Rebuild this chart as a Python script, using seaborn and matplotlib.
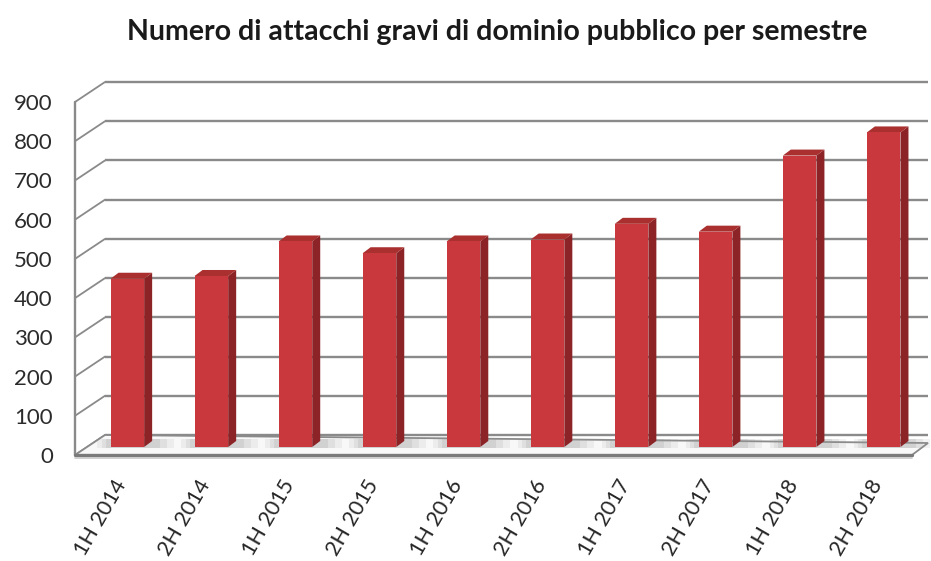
import matplotlib
matplotlib.use("Agg")
import matplotlib.pyplot as plt
from matplotlib.patches import Polygon
from matplotlib.transforms import ScaledTranslation
import seaborn as sns
import pandas as pd

# ---- data ----
semesters = ["1H 2014", "2H 2014", "1H 2015", "2H 2015", "1H 2016",
             "2H 2016", "1H 2017", "2H 2017", "1H 2018", "2H 2018"]
attacks = [429, 436, 524, 494, 524, 529, 569, 549, 743, 802]
y_ticks = [0, 100, 200, 300, 400, 500, 600, 700, 800, 900]
title = "Numero di attacchi gravi di dominio pubblico per semestre"

sns.set_theme(style="white")
plt.rcParams["font.family"] = ["Lato", "DejaVu Sans"]

FRONT = "#C8383D"
SIDE = "#8C2327"
TOP = "#A9302F"
GRID = "#8a8a8a"

fig = plt.figure(figsize=(9.31, 5.61), dpi=100)
ax_w_px, ax_h_px = 837, 353
ax = fig.add_axes([75 / 931, 106 / 561, ax_w_px / 931, ax_h_px / 561])

XMIN, XMAX = -0.48, 9.48
YMIN, YMAX = 0, 900
ax.set_xlim(XMIN, XMAX)
ax.set_ylim(YMIN, YMAX)

ppx = ax_w_px / (XMAX - XMIN)   # pixels per x-unit
ppy = ax_h_px / (YMAX - YMIN)   # pixels per y-unit


def dx(p):
    return p / ppx


def dy(p):
    return p / ppy


# ---- walls / floor (oblique pseudo 3D) ----
BACK = (30, 20)      # back wall shift in px
RIGHT_END = 16       # px beyond the front right edge
for v in y_ticks:
    ax.plot([XMIN + dx(BACK[0]), XMAX + dx(RIGHT_END)],
            [v + dy(BACK[1]), v + dy(BACK[1])],
            color=GRID, lw=1.7, clip_on=False, zorder=1, solid_capstyle="butt")
    ax.plot([XMIN, XMIN + dx(BACK[0])], [v, v + dy(BACK[1])],
            color=GRID, lw=1.3, clip_on=False, zorder=1)
ax.plot([XMIN, XMIN], [0, 900], color=GRID, lw=1.7, clip_on=False, zorder=1)
floor = Polygon([(XMIN, 0), (XMAX, 0),
                 (XMAX + dx(RIGHT_END), dy(12)),
                 (XMIN + dx(BACK[0]), dy(BACK[1]))],
                closed=True, facecolor="#f8f8f8", edgecolor=GRID, lw=1.3,
                clip_on=False, zorder=1)
ax.add_patch(floor)
ax.plot([XMIN, XMAX], [0, 0], color="#7a7a7a", lw=2.4, clip_on=False, zorder=2)
ax.plot([XMIN, XMAX], [-dy(3), -dy(3)], color="#c8c8c8", lw=1.2, clip_on=False, zorder=2)

# ---- bars ----
df = pd.DataFrame({"semestre": semesters, "attacchi": attacks})
sns.barplot(data=df, x="semestre", y="attacchi", color=FRONT, saturation=1,
            width=0.40, ax=ax, zorder=4)
ax.set_xlim(XMIN, XMAX)
ax.set_ylim(YMIN, YMAX)

BAR_SHIFT = (12, 8)   # bar front plane vs front axis plane (px)
DEPTH = (8, 6)        # bar depth (px)
bars = [p for p in ax.patches if p is not floor]
for p in bars:
    p.set_x(p.get_x() + dx(BAR_SHIFT[0]))
    p.set_y(p.get_y() + dy(BAR_SHIFT[1]))
    p.set_edgecolor("none")
    p.set_clip_on(False)
    x0, y0 = p.get_x(), p.get_y()
    x1, y1 = x0 + p.get_width(), y0 + p.get_height()
    ddx, ddy = dx(DEPTH[0]), dy(DEPTH[1])
    # soft floor shadow
    for k, a in zip([22, 15, 8], [0.12, 0.15, 0.2]):
        sh = Polygon([(x0 - dx(k * 0.6), y0 - dy(1)), (x1 + ddx + dx(k), y0 - dy(1)),
                      (x1 + ddx + dx(k), y0 + ddy + dy(2)), (x0 - dx(k * 0.6), y0 + ddy + dy(2))],
                     closed=True, facecolor="#9a9a9a", edgecolor="none", alpha=a,
                     zorder=2, clip_on=False)
        ax.add_patch(sh)
    side = Polygon([(x1, y0), (x1 + ddx, y0 + ddy), (x1 + ddx, y1 + ddy), (x1, y1)],
                   closed=True, facecolor=SIDE, edgecolor="none", zorder=3, clip_on=False)
    top = Polygon([(x0, y1), (x1, y1), (x1 + ddx, y1 + ddy), (x0 + ddx, y1 + ddy)],
                  closed=True, facecolor=TOP, edgecolor="none", zorder=3, clip_on=False)
    ax.add_patch(side)
    ax.add_patch(top)

# ---- axes styling ----
for s in ax.spines.values():
    s.set_visible(False)
ax.set_xlabel("")
ax.set_ylabel("")
ax.grid(False)
ax.set_yticks(y_ticks)
ax.set_yticklabels([str(t) for t in y_ticks])
ax.tick_params(axis="y", length=0, pad=16, labelsize=16, labelcolor="#2b2b2b")
ax.set_xticks(range(len(semesters)))
ax.set_xticklabels(semesters, rotation=60, ha="right", rotation_mode="anchor",
                   va="center", fontsize=15.5, color="#262626")
ax.tick_params(axis="x", length=0, pad=19)
shift = ScaledTranslation(6 / 100, 0, fig.dpi_scale_trans)
for lbl in ax.get_xticklabels():
    lbl.set_transform(lbl.get_transform() + shift)

fig.text(497 / 931, 1 - 32 / 561, title, ha="center", va="center",
         fontsize=20.5, fontweight="bold", color="#1a1a1a")

fig.savefig("out.png", dpi=100)
